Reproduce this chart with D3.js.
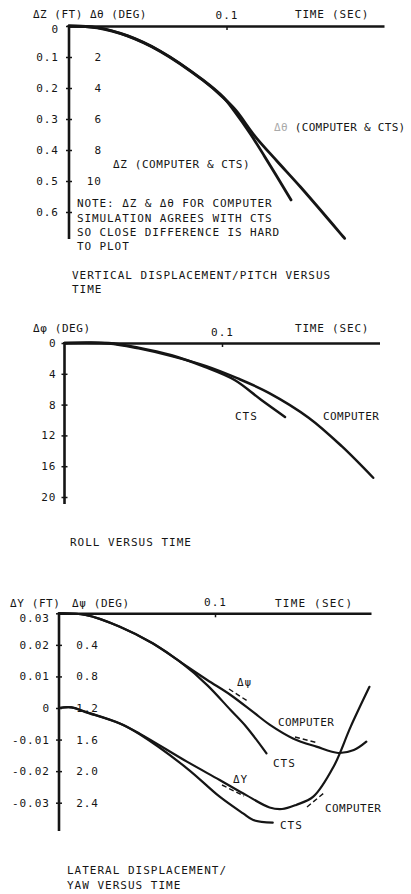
<!DOCTYPE html>
<html><head><meta charset="utf-8">
<script src="https://cdn.jsdelivr.net/npm/d3@7"></script>
<style>
html,body{margin:0;padding:0;background:#fff;}
svg{display:block;}
text{font-family:'DejaVu Sans Mono',monospace;font-size:11px;letter-spacing:1px;fill:#151515;}
</style></head><body>
<script>
// ---------- DATA ----------
// Panel 1: vertical displacement / pitch versus time
const p1TimeDZ   = [0, 0.018, 0.037, 0.058, 0.085, 0.098, 0.105, 0.115, 0.124, 0.141];
const p1DZ       = [0, 0.005, 0.031, 0.081, 0.174, 0.230, 0.275, 0.347, 0.419, 0.561];   // FT
const p1TimeDTh  = [0, 0.018, 0.037, 0.058, 0.085, 0.098, 0.106, 0.118, 0.132, 0.147, 0.175];
const p1DTheta   = [0, 0.12, 0.64, 1.64, 3.5, 4.62, 5.45, 7.1, 8.71, 10.39, 13.7];       // DEG
const p1DZTicks     = [0, 0.1, 0.2, 0.3, 0.4, 0.5, 0.6];
const p1DThetaTicks = [2, 4, 6, 8, 10];

// Panel 2: roll versus time
const p2TimeCts  = [0, 0.028, 0.047, 0.068, 0.089, 0.108, 0.125, 0.140];
const p2PhiCts   = [0, 0, 0.6, 1.6, 3.1, 4.8, 7.4, 9.6];
const p2TimeComp = [0, 0.028, 0.047, 0.068, 0.090, 0.110, 0.130, 0.155, 0.176, 0.196];
const p2PhiComp  = [0, 0.05, 0.7, 1.7, 3.0, 4.6, 6.5, 9.7, 13.4, 17.5];
const p2PhiTicks = [0, 4, 8, 12, 16, 20];

// Panel 3: lateral displacement / yaw versus time
const p3TimePsiComp = [0, 0.017, 0.039, 0.060, 0.078, 0.095, 0.110, 0.125, 0.135, 0.150, 0.165, 0.179, 0.189, 0.197];
const p3PsiComp     = [0, 0.02, 0.17, 0.38, 0.62, 0.845, 1.035, 1.26, 1.41, 1.585, 1.69, 1.77, 1.733, 1.627];
const p3TimePsiCts  = [0, 0.017, 0.039, 0.060, 0.078, 0.095, 0.110, 0.120, 0.133];
const p3PsiCts      = [0, 0.02, 0.17, 0.38, 0.62, 0.91, 1.226, 1.437, 1.774];
const p3TimeDYComp  = [0, 0.008, 0.017, 0.039, 0.052, 0.082, 0.103, 0.120, 0.135, 0.143, 0.152, 0.163, 0.176, 0.187, 0.199];
const p3DYComp      = [0, 0.0002, -0.0012, -0.0049, -0.0082, -0.0170, -0.0228, -0.0276, -0.0315, -0.0320, -0.0307, -0.0281, -0.0186, -0.0059, 0.0067];
const p3TimeDYCts   = [0, 0.008, 0.017, 0.039, 0.052, 0.082, 0.103, 0.118, 0.1245, 0.137];
const p3DYCts       = [0, 0.0002, -0.0013, -0.0049, -0.0084, -0.0191, -0.0281, -0.0334, -0.0355, -0.0363];
const p3DYTicks  = [0.03, 0.02, 0.01, 0, -0.01, -0.02, -0.03];
const p3PsiTicks = [0.4, 0.8, 1.2, 1.6, 2.0, 2.4];

const timeTicks = [0.1];
const timeDomain = [0, 0.2];

// ---------- DRAW ----------
const INK = '#151515';
const svg = d3.select('body').append('svg').attr('width', 411).attr('height', 894);

const zip = (ts, vs) => ts.map((t, i) => ({t, v: vs[i]}));

function txt(x, y, s, ls) {
  const t = svg.append('text').attr('x', x).attr('y', y).text(s);
  if (ls != null) t.style('letter-spacing', ls + 'px');
  return t;
}

function frame(x, y, yEndPx, primTicks, primFmt, primPad, firstShift, sec, secTicks, secFmt, secX) {
  const y0 = y.range()[0];
  const top = svg.append('g').attr('transform', `translate(0,${y0})`)
    .call(d3.axisTop(x).tickValues(timeTicks).tickSizeInner(-4).tickSizeOuter(0).tickPadding(7).tickFormat(d3.format('.1f')));
  top.select('.domain').attr('stroke', INK).attr('stroke-width', 2.6);
  top.selectAll('.tick line').attr('stroke', INK).attr('stroke-width', 1.5);
  top.selectAll('text').attr('font-size', null).attr('font-family', null);
  const left = svg.append('g').attr('transform', `translate(${x.range()[0]},0)`)
    .call(d3.axisLeft(y).tickValues(primTicks).tickSizeInner(3).tickSizeOuter(0).tickPadding(primPad).tickFormat(primFmt));
  left.select('.domain').remove();
  left.append('line').attr('x1', 0).attr('x2', 0).attr('y1', y0 - 1).attr('y2', yEndPx)
    .attr('stroke', INK).attr('stroke-width', 2.6);
  left.selectAll('.tick line').attr('x1', 3).attr('stroke', INK).attr('stroke-width', 1.5);
  left.selectAll('text').attr('font-size', null).attr('font-family', null);
  left.selectAll('.tick').filter((d, i) => i === 0).select('text')
    .attr('transform', `translate(0,${firstShift})`);
  if (sec) {
    const s = svg.append('g').attr('transform', `translate(${secX},0)`)
      .call(d3.axisLeft(sec).tickValues(secTicks).tickSize(0).tickPadding(0).tickFormat(secFmt));
    s.select('.domain').remove();
    s.selectAll('text').attr('font-size', null).attr('font-family', null);
  }
}

function curve(x, y, pts, w) {
  svg.append('path').datum(pts)
    .attr('d', d3.line().x(d => x(d.t)).y(d => y(d.v)).curve(d3.curveCatmullRom.alpha(0.5)))
    .attr('fill', 'none').attr('stroke', INK).attr('stroke-width', w || 2.6)
    .attr('stroke-linecap', 'round').attr('stroke-linejoin', 'round');
}

function leader(x1, y1, x2, y2) {
  svg.append('line').attr('x1', x1).attr('y1', y1).attr('x2', x2).attr('y2', y2)
    .attr('stroke', INK).attr('stroke-width', 1.4).attr('stroke-dasharray', '5,3');
}

const fmt1 = d => d === 0 ? '0' : d.toFixed(1);
const fmt2 = d => d === 0 ? '0' : d.toFixed(2);
const fmt0 = d => String(d);

// ----- Panel 1 -----
{
  const x = d3.scaleLinear().domain(timeDomain).range([69, 384]);
  const yZ = d3.scaleLinear().domain([0, 0.6]).range([26, 212]);
  const yTh = d3.scaleLinear().domain([0, 12]).range([26, 212]);
  frame(x, yZ, 239, p1DZTicks, fmt1, 7, 3, yTh, p1DThetaTicks, fmt0, 102);
  curve(x, yZ, zip(p1TimeDZ, p1DZ), 2.8);
  curve(x, yTh, zip(p1TimeDTh, p1DTheta), 2.8);
  txt(33, 18, 'ΔZ (FT) Δθ (DEG)', 0.5);
  txt(295, 18, 'TIME (SEC)', 0.8);
  const t = svg.append('text').attr('x', 274).attr('y', 131).style('letter-spacing', '0.3px');
  t.append('tspan').attr('fill', '#aaa').text('Δθ ');
  t.append('tspan').text('(COMPUTER & CTS)');
  txt(113, 168, 'ΔZ (COMPUTER & CTS)', 0.6);
  txt(77, 207, 'NOTE: ΔZ & Δθ FOR COMPUTER', 0.9);
  txt(77, 222, 'SIMULATION AGREES WITH CTS', 0.9);
  txt(77, 236, 'SO CLOSE DIFFERENCE IS HARD', 0.9);
  txt(77, 250, 'TO PLOT', 0.9);
  txt(72, 279, 'VERTICAL DISPLACEMENT/PITCH VERSUS');
  txt(72, 293, 'TIME');
}

// ----- Panel 2 -----
{
  const x = d3.scaleLinear().domain(timeDomain).range([64.5, 379.5]);
  const y = d3.scaleLinear().domain([0, 20]).range([343, 497]);
  frame(x, y, 504, p2PhiTicks, fmt0, 5, 0, null);
  curve(x, y, zip(p2TimeCts, p2PhiCts), 2.5);
  curve(x, y, zip(p2TimeComp, p2PhiComp), 2.5);
  txt(33, 332, 'Δφ (DEG)', 0.6);
  txt(295, 332, 'TIME (SEC)', 0.8);
  txt(235, 420, 'CTS');
  txt(323, 420, 'COMPUTER', 0.4);
  txt(70, 546, 'ROLL VERSUS TIME');
}

// ----- Panel 3 -----
{
  const x = d3.scaleLinear().domain(timeDomain).range([59, 371]);
  const yY = d3.scaleLinear().domain([0.03, -0.03]).range([613.3, 802.7]);
  const yPsi = d3.scaleLinear().domain([0, 2.4]).range([613.3, 802.7]);
  frame(x, yY, 831, p3DYTicks, fmt2, 6, 5, yPsi, p3PsiTicks, d3.format('.1f'), 99);
  curve(x, yPsi, zip(p3TimePsiComp, p3PsiComp), 2.2);
  curve(x, yPsi, zip(p3TimePsiCts, p3PsiCts), 2.2);
  curve(x, yY, zip(p3TimeDYComp, p3DYComp), 2.2);
  curve(x, yY, zip(p3TimeDYCts, p3DYCts), 2.2);
  txt(10, 607, 'ΔY (FT)', 0.6);
  txt(72, 607, 'Δψ (DEG)', 0.6);
  txt(275, 607, 'TIME (SEC)', 1.2);
  txt(237, 686, 'Δψ').attr('fill', '#666');
  leader(229, 689, 249, 702);
  txt(278, 726, 'COMPUTER', 0.4);
  leader(295, 737, 318, 743);
  txt(273, 767, 'CTS');
  txt(233, 783, 'ΔY').attr('fill', '#666');
  leader(222, 785, 244, 796);
  txt(325, 812, 'COMPUTER', 0.4);
  leader(307, 807, 324, 793);
  txt(280, 829, 'CTS');
  txt(67, 874, 'LATERAL DISPLACEMENT/');
  txt(67, 889, 'YAW VERSUS TIME');
}
</script>
</body></html>
